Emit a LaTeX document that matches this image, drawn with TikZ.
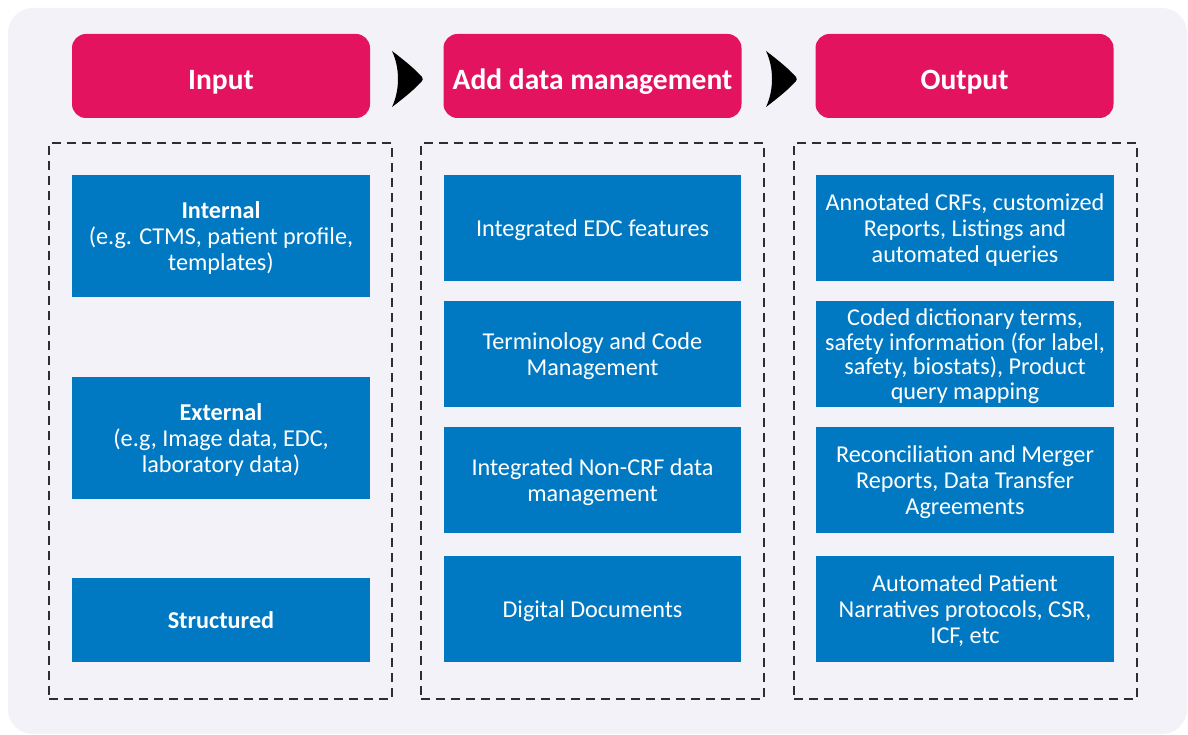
\documentclass[tikz,border=0pt]{standalone}
\usepackage{fontspec}
\setmainfont{Carlito}
\definecolor{bgpanel}{HTML}{F3F2F8}
\definecolor{pinkhead}{HTML}{E4135F}
\definecolor{bluebox}{HTML}{0079C2}
\definecolor{dashgray}{HTML}{2B2F33}
\tikzset{
  head/.style={rounded corners=14pt, fill=pinkhead, text=white, inner sep=0pt,
    minimum width=298pt, minimum height=84pt, text height=27pt, text depth=0pt,
    font=\fontsize{29.5}{33}\selectfont\bfseries},
  bluecell/.style={fill=bluebox, text=white, inner sep=0pt, align=center, text depth=0pt,
    minimum width=298pt, font=\fontsize{24.2}{26.3}\selectfont},
  groupbox/.style={draw=dashgray, line width=2.6pt, dash pattern=on 9pt off 6pt, inner sep=0pt,
    minimum width=343pt, minimum height=556pt},
  chev/.style={fill=black}
}
\begin{document}
\begin{tikzpicture}[x=1pt,y=-1pt]
\useasboundingbox (0,0) rectangle (1188,735);
\fill[white] (0,0) rectangle (1188,735);
\fill[bgpanel, rounded corners=25pt] (8,8) rectangle (1187,734);

% headers
\node[head] (hin) at (221,76) {Input};
\node[head] (hadd) at (592.5,76) {Add data management};
\node[head] (hout) at (964.5,76) {Output};

% chevrons
\foreach \cx/\nm in {392/c1, 766/c2}{
  \fill[chev] (\cx,51) .. controls (\cx+12,60) and (\cx+24,70) .. (\cx+30,77)
     .. controls (\cx+31,79) and (\cx+31,80) .. (\cx+30,81)
     .. controls (\cx+24,88) and (\cx+12,98) .. (\cx,107)
     .. controls (\cx+8,90) and (\cx+8,68) .. cycle;
}

% dashed groups
\node[groupbox] (gin) at (220.5,421) {};
\node[groupbox] (gadd) at (592.5,421) {};
\node[groupbox] (gout) at (965.5,421) {};

% input column
\node[bluecell, minimum height=122pt] (internal) at (221,236) {\textbf{Internal}\\(e.g. CTMS, patient profile,\\templates)};
\node[bluecell, minimum height=122pt] (external) at (221,438) {\textbf{External}\\(e.g, Image data, EDC,\\laboratory data)};
\node[bluecell, minimum height=84pt] (structured) at (221,620) {\textbf{Structured}};

% middle column
\node[bluecell, minimum height=106pt, minimum width=297pt] (edc) at (592.5,228) {Integrated EDC features};
\node[bluecell, minimum height=106pt, minimum width=297pt] (term) at (592.5,354) {Terminology and Code\\Management};
\node[bluecell, minimum height=106pt, minimum width=297pt] (noncrf) at (592.5,480) {Integrated Non-CRF data\\management};
\node[bluecell, minimum height=106pt, minimum width=297pt] (digital) at (592.5,609) {Digital Documents};

% output column
\node[bluecell, minimum height=106pt] (crf) at (965,228) {Annotated CRFs, customized\\Reports, Listings and\\automated queries};
\node[bluecell, minimum height=106pt, font=\fontsize{24.2}{24.5}\selectfont] (coded) at (965,354) {Coded dictionary terms,\\safety information (for label,\\safety, biostats), Product\\query mapping};
\node[bluecell, minimum height=106pt] (recon) at (965,480) {Reconciliation and Merger\\Reports, Data Transfer\\Agreements};
\node[bluecell, minimum height=106pt] (narr) at (965,609) {Automated Patient\\Narratives protocols, CSR,\\ICF, etc};
\end{tikzpicture}
\end{document}
